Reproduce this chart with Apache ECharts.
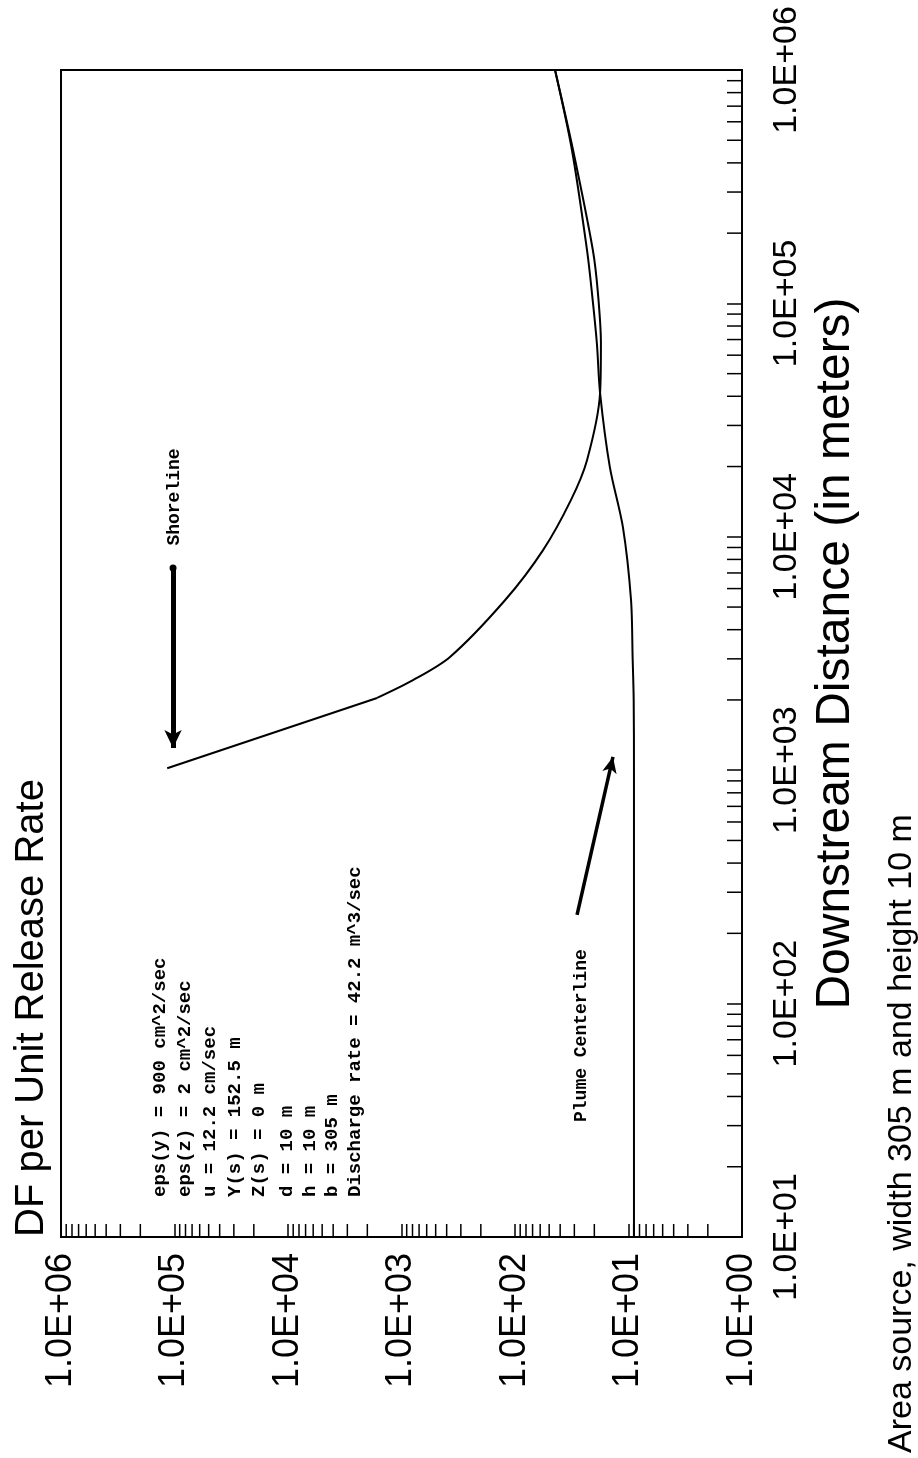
<!DOCTYPE html>
<html>
<head>
<meta charset="utf-8">
<title>DF per Unit Release Rate</title>
<script src="https://cdn.jsdelivr.net/npm/echarts@6/dist/echarts.min.js"></script>
<style>
	html, body { margin: 0; padding: 0; background: #fff; }
	#chart { width: 918px; height: 1458px; }
</style>
</head>
<body>
<div id="chart"></div>
<script>

// Plume centerline: downstream distance (m) and DF per unit release rate
var plumeDistance = [10, 100, 1000, 2000, 3055, 5360, 11000, 19900, 41300, 67600, 111000, 169000, 454000, 1000000];
var plumeDF = [8.95, 8.95, 8.95, 9.0, 9.2, 9.5, 11.2, 14.6, 17.8, 19.0, 21.0, 23.2, 31.5, 44.4];

// Shoreline (the first two points are the straight rise before the bend)
var shoreDistance = [1020, 2040, 2430, 3055, 5360, 8770, 14400, 21300, 41300, 67600, 111000, 169000, 454000, 1000000];
var shoreDF = [116000, 1640, 792, 374, 122, 56.6, 32.1, 23.2, 17.8, 17.5, 18.6, 20.6, 30.8, 44.4];

// tick labels, indexed by the decade exponent
var dfLabels = ['1.0E+00', '1.0E+01', '1.0E+02', '1.0E+03', '1.0E+04', '1.0E+05', '1.0E+06'];
var distanceLabels = ['', '1.0E+01', '1.0E+02', '1.0E+03', '1.0E+04', '1.0E+05', '1.0E+06'];

// decades that carry the 2..9 minor ticks
var dfDecades = [1, 10, 100, 1000, 10000, 100000];
var distanceDecades = [10, 100, 1000, 10000, 100000];

// annotation arrows, [DF, distance] at tail and head
var shorelineArrow = [[103000, 7350], [103000, 1245]];
var plumeArrow = [[28.4, 240], [13.7, 1140]];

var paramLines = [
	'eps(y) = 900 cm^2/sec',
	'eps(z) = 2 cm^2/sec',
	'u = 12.2 cm/sec',
	'Y(s) = 152.5 m',
	'Z(s) = 0 m',
	'd = 10 m',
	'h = 10 m',
	'b = 305 m',
	'Discharge rate = 42.2 m^3/sec'
];

var FONT = '"Liberation Sans", Arial, sans-serif';
var MONO = '"Liberation Mono", "DejaVu Sans Mono", monospace';

/**
 * Pairs the DF values with the distances as [x, y] points
 */
function toPoints(dfValues, distances){
	var out = [];
	for(var ii = 0; ii < dfValues.length; ii++){
		out.push([dfValues[ii], distances[ii]]);
	}
	return out;
}

/**
 * 2..9 times each decade
 */
function minorValues(decades){
	var out = [];
	decades.forEach(function(base){
		for(var k = 2; k <= 9; k++){
			out.push(base * k);
		}
	});
	return out;
}

function exponentOf(value){
	return Math.round(Math.log10(value));
}

var shorePoints = toPoints(shoreDF, shoreDistance);
var dfMinor = minorValues(dfDecades).map(function(v){ return [v, 10]; });
var distanceMinor = minorValues(distanceDecades).map(function(v){ return [1, v]; });

// text block of the run parameters, one rotated column per line
var paramX = [160, 185, 210, 235, 259, 287, 310, 332, 355];
var graphics = paramLines.map(function(line, ii){
	return {
		type: 'text',
		x: paramX[ii],
		y: 1197,
		rotation: Math.PI / 2,
		style: {
			text: line,
			fontFamily: MONO,
			fontWeight: 'bold',
			fontSize: 19,
			fill: '#000',
			align: 'left',
			verticalAlign: 'middle'
		}
	};
});

graphics.push(
	{
		type: 'text', x: 32, y: 1237, rotation: Math.PI / 2,
		style: { text: 'DF per Unit Release Rate', fontFamily: FONT, fontSize: 40, fill: '#000', align: 'left', verticalAlign: 'middle' }
	},
	{
		type: 'text', x: 902, y: 1453, rotation: Math.PI / 2,
		style: { text: 'Area source, width 305 m and height 10 m', fontFamily: FONT, fontSize: 34, fill: '#000', align: 'left', verticalAlign: 'middle' }
	},
	{
		type: 'text', x: 174, y: 497, rotation: Math.PI / 2,
		style: { text: 'Shoreline', fontFamily: MONO, fontWeight: 'bold', fontSize: 18, fill: '#000', align: 'center', verticalAlign: 'middle' }
	},
	{
		type: 'text', x: 581, y: 1122, rotation: Math.PI / 2,
		style: { text: 'Plume Centerline', fontFamily: MONO, fontWeight: 'bold', fontSize: 18, fill: '#000', align: 'left', verticalAlign: 'middle' }
	}
);

/**
 * Short tick strokes drawn inward from an axis edge
 */
function tickRenderer(horizontal, len){
	return function(params, api){
		var p = api.coord([api.value(0), api.value(1)]);
		var shape = horizontal
			? { x1: p[0], y1: p[1], x2: p[0], y2: p[1] - len }
			: { x1: p[0], y1: p[1], x2: p[0] - len, y2: p[1] };
		return {
			type: 'line',
			shape: shape,
			style: { stroke: '#000', lineWidth: 1.5 }
		};
	};
}

var lineStyle = { color: '#000', width: 2 };

var option = {
	animation: false,
	backgroundColor: '#fff',
	grid: {
		left: 61, right: 176, top: 70, bottom: 221,
		show: true, borderColor: '#000', borderWidth: 2,
		containLabel: false, outerBoundsMode: 'none'
	},
	xAxis: {
		type: 'log',
		min: 1, max: 1000000,
		inverse: true,
		position: 'bottom',
		axisLine: { show: true, lineStyle: { color: '#000', width: 2 } },
		axisTick: { show: true, inside: true, length: 13, lineStyle: { color: '#000', width: 1.5 } },
		splitLine: { show: false },
		minorTick: { show: false },
		axisLabel: {
			rotate: 90,
			margin: 16,
			fontFamily: FONT,
			fontSize: 36,
			color: '#000',
			formatter: function(v){ return dfLabels[exponentOf(v)]; }
		}
	},
	yAxis: {
		type: 'log',
		min: 10, max: 1000000,
		position: 'right',
		name: 'Downstream Distance (in meters)',
		nameLocation: 'middle',
		nameGap: 68,
		nameTextStyle: { fontFamily: FONT, fontSize: 48, color: '#000' },
		axisLine: { show: true, lineStyle: { color: '#000', width: 2 } },
		axisTick: { show: true, inside: true, length: 15, lineStyle: { color: '#000', width: 1.5 } },
		splitLine: { show: false },
		minorTick: { show: false },
		axisLabel: {
			rotate: 90,
			margin: 28,
			fontFamily: FONT,
			fontSize: 34,
			color: '#000',
			formatter: function(v){ return distanceLabels[exponentOf(v)]; }
		}
	},
	graphic: graphics,
	series: [
		{
			name: 'Plume Centerline',
			type: 'line',
			data: toPoints(plumeDF, plumeDistance),
			showSymbol: false,
			smooth: 0.3,
			lineStyle: lineStyle,
			markLine: {
				silent: true,
				label: { show: false },
				lineStyle: { color: '#000', width: 3.5, type: 'solid' },
				data: [[
					{ coord: plumeArrow[0], symbol: 'none' },
					{ coord: plumeArrow[1], symbol: 'arrow', symbolSize: [11, 16] }
				]]
			}
		},
		{
			// straight rise from the shoreline start to the bend
			name: 'Shoreline',
			type: 'line',
			data: shorePoints.slice(0, 2),
			showSymbol: false,
			lineStyle: lineStyle,
			markLine: {
				silent: true,
				label: { show: false },
				lineStyle: { color: '#000', width: 5, type: 'solid' },
				data: [[
					{ coord: shorelineArrow[0], symbol: 'circle', symbolSize: 7 },
					{ coord: shorelineArrow[1], symbol: 'arrow', symbolSize: [13, 18] }
				]]
			}
		},
		{
			name: 'Shoreline',
			type: 'line',
			data: shorePoints.slice(1),
			showSymbol: false,
			smooth: 0.3,
			lineStyle: lineStyle
		},
		{
			type: 'custom',
			coordinateSystem: 'cartesian2d',
			clip: false,
			silent: true,
			data: dfMinor,
			renderItem: tickRenderer(true, 13)
		},
		{
			type: 'custom',
			coordinateSystem: 'cartesian2d',
			clip: false,
			silent: true,
			data: distanceMinor,
			renderItem: tickRenderer(false, 15)
		}
	]
};

var chart = echarts.init(document.getElementById('chart'));
chart.setOption(option);

</script>
</body>
</html>
